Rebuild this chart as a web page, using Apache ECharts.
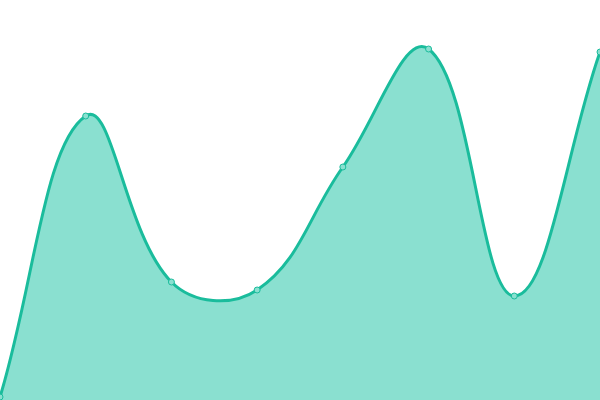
<!DOCTYPE html>
<html>
<head>
<meta charset="utf-8">
<script src="https://cdn.jsdelivr.net/npm/echarts@6/dist/echarts.min.js"></script>
<style>
  html, body { margin: 0; padding: 0; background: #fff; }
  #main { width: 600px; height: 400px; }
</style>
</head>
<body>
<div id="main"></div>
<script>
// 数据
var categories = ['1', '2', '3', '4', '5', '6', '7', '8'];
var values = [3, 284, 118, 110, 233, 351, 104, 348];

var lineColor = '#1abc9c';
var fillColor = '#8ae0d0';
var tension = 0.4;

// 样条曲线：控制点按前后两点方向取，端点以自身为前/后点
function smoothPath(pts) {
    var n = pts.length;
    var cps = [];
    for (var i = 0; i < n; i++) {
        var p = pts[i];
        var prev = pts[i - 1] || p, next = pts[i + 1] || p;
        var d01 = Math.hypot(p[0] - prev[0], p[1] - prev[1]);
        var d12 = Math.hypot(next[0] - p[0], next[1] - p[1]);
        var s01 = d01 / (d01 + d12), s12 = d12 / (d01 + d12);
        var fa = tension * s01, fb = tension * s12;
        var vx = next[0] - prev[0], vy = next[1] - prev[1];
        cps.push([[p[0] - fa * vx, p[1] - fa * vy], [p[0] + fb * vx, p[1] + fb * vy]]);
    }
    var d = 'M' + pts[0][0] + ',' + pts[0][1];
    for (var j = 1; j < n; j++) {
        var c0 = cps[j - 1][1], c1 = cps[j][0];
        d += 'C' + c0[0] + ',' + c0[1] + ',' + c1[0] + ',' + c1[1] + ',' + pts[j][0] + ',' + pts[j][1];
    }
    return d;
}

var myChart = echarts.init(document.getElementById('main'));

var option = {
    animation: false,
    grid: { left: 0, right: 0, top: 0, bottom: 0 },
    xAxis: {
        type: 'category',
        boundaryGap: false,
        data: categories,
        show: false
    },
    yAxis: {
        type: 'value',
        min: 0,
        max: 400,
        show: false
    },
    series: [
        {
            type: 'custom',
            data: values.map(function (v, i) { return [i, v]; }),
            renderItem: function (params, api) {
                if (params.dataIndex !== 0) return null;
                var pts = values.map(function (v, i) { return api.coord([i, v]); });
                var base = api.coord([0, 0])[1];
                var line = smoothPath(pts);
                var area = line + 'L' + pts[pts.length - 1][0] + ',' + base + 'L' + pts[0][0] + ',' + base + 'Z';
                return {
                    type: 'group',
                    children: [
                        { type: 'path', shape: { pathData: area }, style: { fill: fillColor } },
                        { type: 'path', shape: { pathData: line }, style: { fill: null, stroke: lineColor, lineWidth: 3 } }
                    ]
                };
            },
            z: 1
        },
        {
            type: 'scatter',
            data: values,
            symbol: 'circle',
            symbolSize: 6,
            itemStyle: { color: fillColor, borderColor: lineColor, borderWidth: 1, opacity: 1 },
            z: 2
        }
    ]
};
myChart.setOption(option);
</script>
</body>
</html>
